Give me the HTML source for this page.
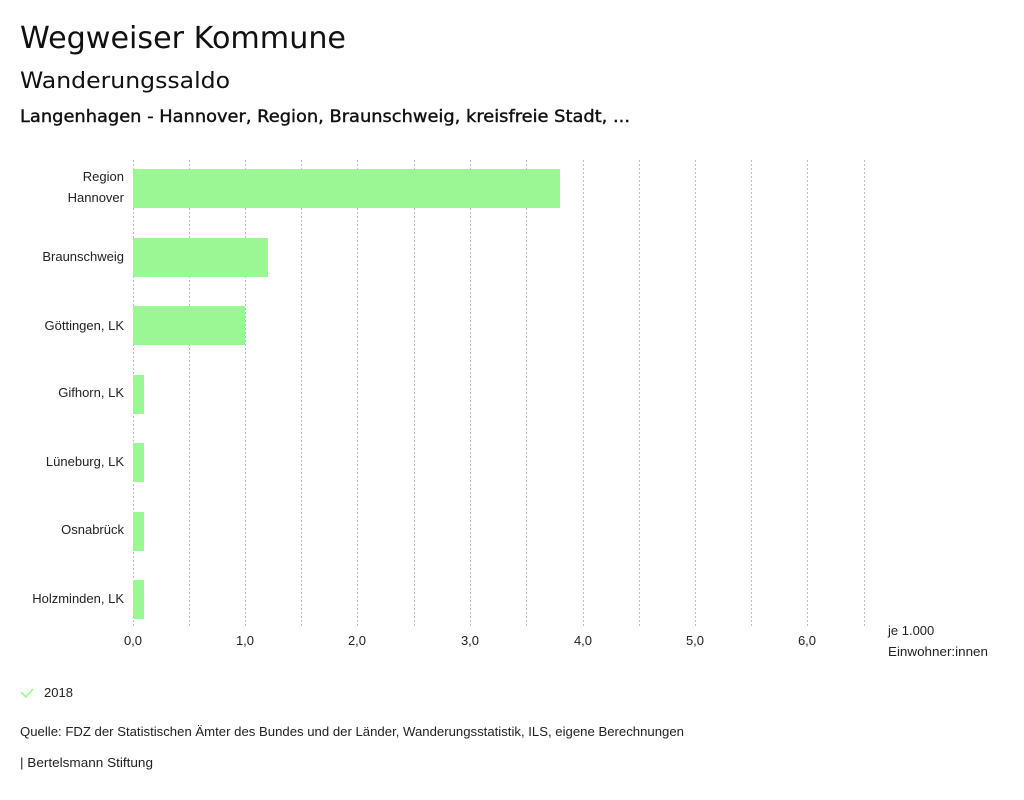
<!DOCTYPE html>
<html><head><meta charset="utf-8"><style>
body{margin:0;background:#fff;width:1024px;height:795px;overflow:hidden;font-family:"Liberation Sans",sans-serif;color:#111}
</style></head><body>
<svg width="1024" height="795" xmlns="http://www.w3.org/2000/svg" font-family="Liberation Sans, sans-serif">
<text x="20" y="48" font-size="30" fill="#111" font-family="DejaVu Sans, sans-serif" textLength="326" lengthAdjust="spacingAndGlyphs">Wegweiser Kommune</text>
<text x="20" y="88" font-size="22" fill="#111" font-family="DejaVu Sans, sans-serif" textLength="210" lengthAdjust="spacingAndGlyphs">Wanderungssaldo</text>
<text x="20" y="122" font-size="17" fill="#111" stroke="#111" stroke-width="0.4" font-family="DejaVu Sans, sans-serif" textLength="610" lengthAdjust="spacingAndGlyphs">Langenhagen - Hannover, Region, Braunschweig, kreisfreie Stadt, ...</text>
<g stroke="#bbb" stroke-width="1" stroke-dasharray="2,2">
<line x1="133.5" y1="160" x2="133.5" y2="628"/>
<line x1="189.5" y1="160" x2="189.5" y2="628"/>
<line x1="245.5" y1="160" x2="245.5" y2="628"/>
<line x1="301.5" y1="160" x2="301.5" y2="628"/>
<line x1="357.5" y1="160" x2="357.5" y2="628"/>
<line x1="414.5" y1="160" x2="414.5" y2="628"/>
<line x1="470.5" y1="160" x2="470.5" y2="628"/>
<line x1="526.5" y1="160" x2="526.5" y2="628"/>
<line x1="583.5" y1="160" x2="583.5" y2="628"/>
<line x1="639.5" y1="160" x2="639.5" y2="628"/>
<line x1="695.5" y1="160" x2="695.5" y2="628"/>
<line x1="751.5" y1="160" x2="751.5" y2="628"/>
<line x1="807.5" y1="160" x2="807.5" y2="628"/>
<line x1="864.5" y1="160" x2="864.5" y2="628"/>
</g>
<g fill="#9bf794">
<rect x="133" y="169" width="427" height="39"/>
<rect x="133" y="238" width="135" height="39"/>
<rect x="133" y="306" width="112" height="39"/>
<rect x="133" y="375" width="11" height="39"/>
<rect x="133" y="443" width="11" height="39"/>
<rect x="133" y="512" width="11" height="39"/>
<rect x="133" y="580" width="11" height="39"/>
</g>
<g font-size="13" fill="#222" text-anchor="end">
<text x="124" y="181">Region</text>
<text x="124" y="202">Hannover</text>
<text x="124" y="261">Braunschweig</text>
<text x="124" y="330">Göttingen, LK</text>
<text x="124" y="397">Gifhorn, LK</text>
<text x="124" y="466">Lüneburg, LK</text>
<text x="124" y="534">Osnabrück</text>
<text x="124" y="603">Holzminden, LK</text>
</g>
<g font-size="13" fill="#222" text-anchor="middle">
<text x="133" y="645">0,0</text>
<text x="245" y="645">1,0</text>
<text x="357" y="645">2,0</text>
<text x="470" y="645">3,0</text>
<text x="583" y="645">4,0</text>
<text x="695" y="645">5,0</text>
<text x="807" y="645">6,0</text>
</g>
<text x="888" y="635" font-size="13" fill="#222">je 1.000</text>
<text x="888" y="656" font-size="13" fill="#222" textLength="100" lengthAdjust="spacingAndGlyphs">Einwohner:innen</text>
<path d="M21 692 L26 697 L33 689" stroke="#9bf794" stroke-width="1.6" fill="none"/>
<text x="44" y="697" font-size="13" fill="#222">2018</text>
<text x="20" y="736" font-size="13" fill="#222" textLength="664" lengthAdjust="spacingAndGlyphs">Quelle: FDZ der Statistischen Ämter des Bundes und der Länder, Wanderungsstatistik, ILS, eigene Berechnungen</text>
<text x="20" y="767" font-size="13" fill="#222" textLength="133" lengthAdjust="spacingAndGlyphs">| Bertelsmann Stiftung</text>
</svg>
</body></html>
